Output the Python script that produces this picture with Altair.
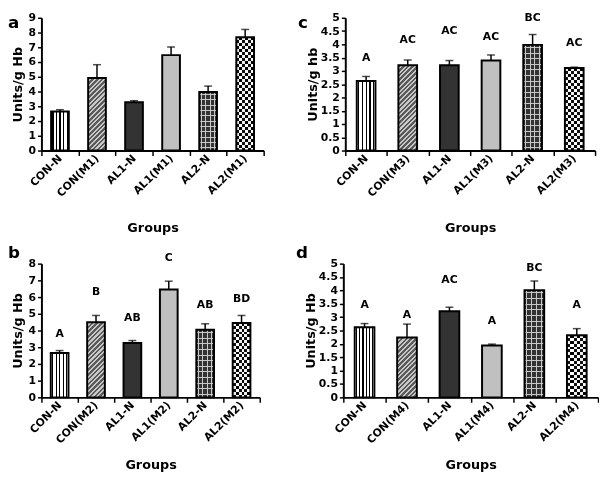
import altair as alt
import pandas as pd

FONT = "DejaVu Sans"

# ---------------- data ----------------
groups_a = ["CON-N", "CON(M1)", "AL1-N", "AL1(M1)", "AL2-N", "AL2(M1)"]
mean_a = [2.65, 4.92, 3.27, 6.47, 3.97, 7.68]
upper_a = [2.77, 5.82, 3.38, 7.02, 4.37, 8.21]
letters_a = ["", "", "", "", "", ""]
letter_y_a = [0, 0, 0, 0, 0, 0]

groups_b = ["CON-N", "CON(M2)", "AL1-N", "AL1(M2)", "AL2-N", "AL2(M2)"]
mean_b = [2.65, 4.5, 3.25, 6.45, 4.05, 4.45]
upper_b = [2.8, 4.9, 3.4, 6.95, 4.4, 4.9]
letters_b = ["A", "B", "AB", "C", "AB", "BD"]
letter_y_b = [3.8, 6.3, 4.76, 8.35, 5.53, 5.91]

groups_c = ["CON-N", "CON(M3)", "AL1-N", "AL1(M3)", "AL2-N", "AL2(M3)"]
mean_c = [2.62, 3.21, 3.21, 3.39, 3.98, 3.11]
upper_c = [2.79, 3.41, 3.39, 3.6, 4.37, 3.14]
letters_c = ["A", "AC", "AC", "AC", "BC", "AC"]
letter_y_c = [3.5, 4.17, 4.5, 4.27, 5.0, 4.05]

groups_d = ["CON-N", "CON(M4)", "AL1-N", "AL1(M4)", "AL2-N", "AL2(M4)"]
mean_d = [2.62, 2.24, 3.22, 1.94, 4.01, 2.32]
upper_d = [2.76, 2.74, 3.37, 1.99, 4.35, 2.57]
letters_d = ["A", "A", "AC", "A", "BC", "A"]
letter_y_d = [3.47, 3.07, 4.37, 2.84, 4.85, 3.47]

ticks_9 = [0, 1, 2, 3, 4, 5, 6, 7, 8, 9]
ticks_8 = [0, 1, 2, 3, 4, 5, 6, 7, 8]
ticks_5 = [0, 0.5, 1, 1.5, 2, 2.5, 3, 3.5, 4, 4.5, 5]

patterns = ["vstripe", "hatch", "dark", "light", "grid", "checker"]


# ---------------- pattern helpers (gradient fills) ----------------
def stripe_gradient(colors, bounds, n, x1, y1, x2, y2):
    stops = []
    n = max(1, int(n))
    for k in range(n):
        start = 0.0
        for c, b in zip(colors, bounds):
            o1 = min(1.0, round((k + start) / n, 5))
            o2 = min(1.0, round((k + b) / n, 5))
            stops.append({"offset": o1, "color": c})
            stops.append({"offset": o2, "color": c})
            start = b
    return {"gradient": "linear", "x1": x1, "y1": y1, "x2": x2, "y2": y2,
            "stops": stops}


def bar_layers(sub, kind, w, h, x_enc, y_enc):
    base = alt.Chart(sub)
    enc = dict(x=x_enc, y=y_enc)
    out = []
    if kind == "vstripe":
        g = stripe_gradient(["white", "black", "white"], [0.35, 0.68, 1.0],
                            round(w / 3.6), 0, 0, 1, 0)
        out.append(base.mark_bar(width=w, fill=g).encode(**enc))
    elif kind == "hatch":
        P = 3.4
        n = (w * w + h * h) / (P * 1.4142 * w)
        g = stripe_gradient(["#5a5a5a", "#c8c8c8"], [0.55, 1.0],
                            round(n), 0, 0, 1, round(h / w, 4))
        out.append(base.mark_bar(width=w, fill=g).encode(**enc))
    elif kind == "dark":
        out.append(base.mark_bar(width=w, fill="#333333").encode(**enc))
    elif kind == "light":
        out.append(base.mark_bar(width=w, fill="#c0c0c0").encode(**enc))
    elif kind == "grid":
        out.append(base.mark_bar(width=w, fill="#333333").encode(**enc))
        cw = w / 4.0
        lw = 1.0 / cw
        gv = stripe_gradient(["rgba(255,255,255,0)", "#c8c8c8", "rgba(255,255,255,0)"],
                             [0.5 - lw / 2, 0.5 + lw / 2, 1.0], 4, 0, 0, 1, 0)
        out.append(base.mark_bar(width=w, fill=gv).encode(**enc))
        rows = max(1, round(h / 5.6))
        rl = 1.0 / (h / rows)
        gh = stripe_gradient(["rgba(255,255,255,0)", "#c8c8c8", "rgba(255,255,255,0)"],
                             [0.5 - rl / 2, 0.5 + rl / 2, 1.0], rows, 0, 0, 0, 1)
        out.append(base.mark_bar(width=w, fill=gh).encode(**enc))
    elif kind == "checker":
        cols = max(1, round(w / 6.0))
        gv = stripe_gradient(["#111111", "white"], [0.5, 1.0], cols, 0, 0, 1, 0)
        out.append(base.mark_bar(width=w, fill=gv).encode(**enc))
        rows = max(1, round(h / 6.0))
        gh = stripe_gradient(["white", "rgba(255,255,255,0)"], [0.5, 1.0],
                             rows, 0, 0, 0, 1)
        out.append(base.mark_bar(width=w, fill=gh, blend="difference").encode(**enc))
    return out


def panel(letter, groups, means, uppers, letters, letter_y, ymax, yticks,
          ytitle, width, height, bar_w, letter_x, letter_top, ytitle_pad,
          xtitle_pad):
    df = pd.DataFrame({"g": groups, "v": means, "e": uppers,
                       "lab": letters, "ly": letter_y})
    x_enc = alt.X("g:N", sort=groups,
                  scale=alt.Scale(domain=groups, paddingInner=0, paddingOuter=0),
                  axis=alt.Axis(title="Groups", labelAngle=-45, labelAlign="right",
                                labelBaseline="middle", tickBand="extent",
                                tickSize=5, tickWidth=1.5, tickColor="black",
                                domainWidth=2, domainColor="black",
                                labelPadding=1, labelFont=FONT, labelFontSize=11,
                                labelFontWeight="bold", labelColor="black",
                                titleFont=FONT, titleFontSize=13,
                                titleFontWeight="bold", titleColor="black",
                                titlePadding=xtitle_pad, grid=False))
    yscale = alt.Scale(domain=[0, ymax], nice=False, zero=True)
    yaxis = alt.Axis(title=ytitle, values=yticks, format="~g", tickSize=4,
                     tickWidth=1.5, tickColor="black", domainWidth=2,
                     domainColor="black", labelPadding=2, labelFont=FONT,
                     labelFontSize=11, labelFontWeight="bold", labelColor="black",
                     titleFont=FONT, titleFontSize=13, titleFontWeight="bold",
                     titleColor="black", titlePadding=ytitle_pad, grid=False)
    y_v = alt.Y("v:Q", scale=yscale, axis=yaxis)
    layers = []
    for i, gname in enumerate(groups):
        sub = df[df.g == gname]
        hpx = means[i] / ymax * height
        layers += bar_layers(sub, patterns[i], bar_w, hpx, x_enc, y_v)
    # outline
    layers.append(alt.Chart(df).mark_bar(width=bar_w, fillOpacity=0,
                                         stroke="black", strokeWidth=2)
                  .encode(x=x_enc, y=y_v))
    # error bars (upper only)
    layers.append(alt.Chart(df).mark_rule(color="black", strokeWidth=1.5)
                  .encode(x=x_enc, y=y_v, y2="e:Q"))
    layers.append(alt.Chart(df).mark_tick(color="black", size=8, thickness=1.5)
                  .encode(x=x_enc, y=alt.Y("e:Q", scale=yscale, axis=yaxis)))
    if any(letters):
        layers.append(alt.Chart(df).mark_text(font=FONT, fontSize=11,
                                              fontWeight="bold", color="black",
                                              baseline="middle")
                      .encode(x=x_enc, y=alt.Y("ly:Q", scale=yscale, axis=yaxis),
                              text="lab:N"))
    # panel letter
    layers.append(alt.Chart(pd.DataFrame({"t": [letter]})).mark_text(
        font=FONT, fontSize=17, fontWeight="bold", color="black",
        align="left", baseline="top")
        .encode(x=alt.value(letter_x), y=alt.value(letter_top), text="t:N"))
    return alt.layer(*layers).properties(width=width, height=height)


pa = panel("a", groups_a, mean_a, upper_a, letters_a, letter_y_a, 9, ticks_9,
           "Units/g Hb", 226, 135, 18, -34, -3, 4, 24)
pc = panel("c", groups_c, mean_c, upper_c, letters_c, letter_y_c, 5, ticks_5,
           "Units/g hb", 254, 135, 19, -48, -3, 1, 24)
pb = panel("b", groups_b, mean_b, upper_b, letters_b, letter_y_b, 8, ticks_8,
           "Units/g Hb", 222, 136, 18, -34, -19, 4, 14)
pd_ = panel("d", groups_d, mean_d, upper_d, letters_d, letter_y_d, 5, ticks_5,
            "Units/g Hb", 259, 136, 20, -48, -19, 1, 14)

chart = alt.vconcat(
    alt.hconcat(pa, pc, spacing=34),
    alt.hconcat(pb, pd_, spacing=36),
    spacing=9,
).properties(padding=0, background="white").configure_view(
    stroke="transparent", strokeWidth=0)

chart.save("out.html", embed_options={"renderer": "svg", "actions": False})
